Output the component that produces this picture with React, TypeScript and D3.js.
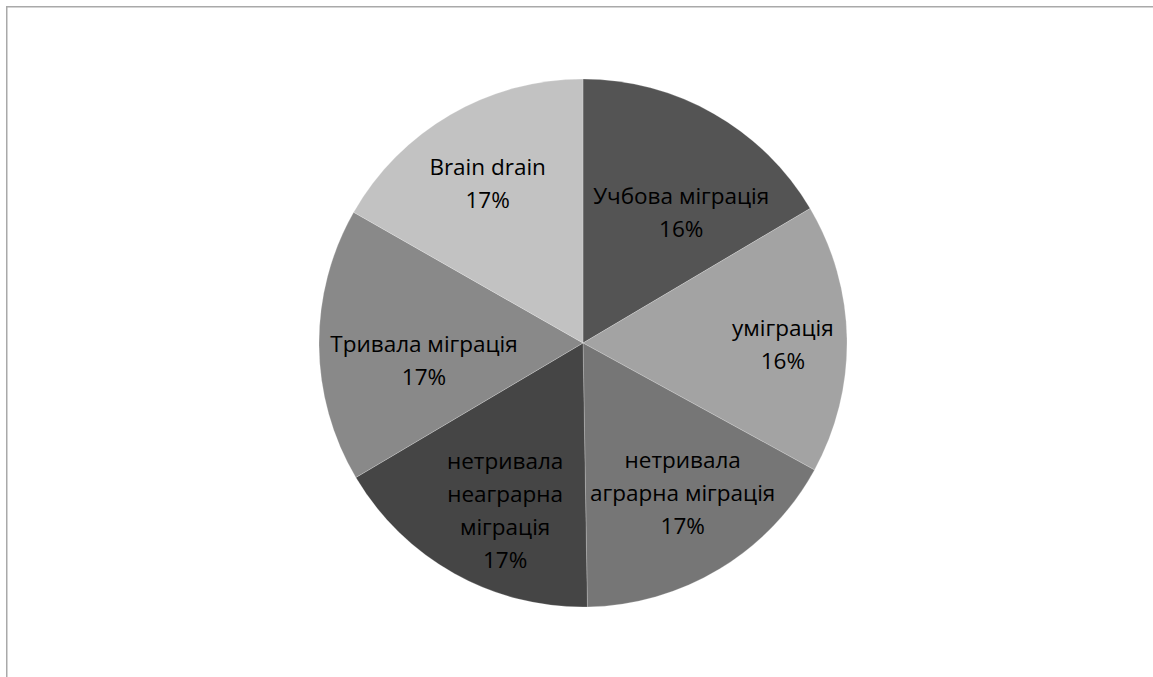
import { useEffect, useRef } from 'react';
import * as d3 from 'd3';

const CATEGORIES = [
  ['Учбова міграція'],
  ['умiграція'],
  ['нетривала', 'аграрна міграція'],
  ['нетривала', 'неаграрна', 'міграція'],
  ['Тривала міграція'],
  ['Brain drain'],
];
const VALUES = [16.49, 16.49, 16.755, 16.755, 16.755, 16.755];
const COLORS = ['#545454', '#a3a3a3', '#767676', '#454545', '#898989', '#c2c2c2'];

export default function App() {
  const svgRef = useRef<SVGSVGElement>(null);

  useEffect(() => {
    if (!svgRef.current) return;
    const width = 1153;
    const height = 677;
    const cx = 583;
    const cy = 343;
    const radius = 264;

    const svg = d3.select(svgRef.current);
    svg.selectAll('*').remove();
    svg.attr('viewBox', `0 0 ${width} ${height}`);

    // chart frame (runs off the right/bottom edges)
    svg.append('rect')
      .attr('x', 6.75).attr('y', 6.75)
      .attr('width', width + 20).attr('height', height + 20)
      .attr('fill', 'white')
      .attr('stroke', '#a9a9a9')
      .attr('stroke-width', 1.5);

    const g = svg.append('g').attr('transform', `translate(${cx},${cy})`);

    const pie = d3.pie<number>().sort(null).value((d) => d);
    const arcs = pie(VALUES);
    const total = d3.sum(VALUES);

    const arc = d3.arc<d3.PieArcDatum<number>>().innerRadius(0).outerRadius(radius);

    g.selectAll('path.slice')
      .data(arcs)
      .join('path')
      .attr('class', 'slice')
      .attr('d', arc as any)
      .attr('fill', (_, i) => COLORS[i])
      .attr('stroke', 'rgba(255,255,255,0.35)')
      .attr('stroke-width', 0.6);

    // "best fit" labels: push each text block outwards until it nearly touches
    // the rim, and turn it inside its slice so it keeps clear of the slice edges.
    // The label box has some padding above the text, so the text sits a bit low.
    const lineH = 33;
    const halfH = 14;
    const topPad = 7;
    const rimGap = 10;
    const edgeGap = 10;

    arcs.forEach((a, i) => {
      const lines = [...CATEGORIES[i], `${Math.round((a.data / total) * 100)}%`];
      const text = g.append('text')
        .attr('text-anchor', 'middle')
        .attr('font-family', '"Open Sans", "Noto Sans", sans-serif')
        .attr('font-size', '22.5px')
        .attr('fill', '#000');
      const spans = lines.map((line) =>
        text.append('tspan').attr('dominant-baseline', 'middle').text(line));
      const widths = spans.map((s) => (s.node() as SVGTSpanElement).getComputedTextLength());
      const offs = lines.map((_, j) => (j - (lines.length - 1) / 2) * lineH + topPad);

      const corners: [number, number][] = [];
      widths.forEach((w, j) => {
        [-w / 2, w / 2].forEach((x) => {
          corners.push([x, offs[j] - halfH]);
          corners.push([x, offs[j] + halfH]);
          if (j === 0) corners.push([x, offs[j] - halfH - 2 * topPad]);
        });
      });

      const fitT = (dx: number, dy: number) => {
        let lo = 0;
        let hi = radius;
        for (let k = 0; k < 40; k++) {
          const t = (lo + hi) / 2;
          const ok = corners.every(([x, y]) =>
            Math.hypot(t * dx + x, t * dy + y) <= radius - rimGap);
          if (ok) lo = t; else hi = t;
        }
        return lo;
      };

      const mid = (a.startAngle + a.endAngle) / 2;
      const us = [Math.sin(a.startAngle), -Math.cos(a.startAngle)];
      const ue = [Math.sin(a.endAngle), -Math.cos(a.endAngle)];
      let best = { score: -Infinity, dev: Infinity, x: 0, y: 0 };
      const step = Math.PI / 720;
      for (let th = a.startAngle + step; th < a.endAngle; th += step) {
        const dx = Math.sin(th);
        const dy = -Math.cos(th);
        const t = fitT(dx, dy);
        const px = t * dx;
        const py = t * dy;
        let clear = Infinity;
        corners.forEach(([x, y]) => {
          const qx = px + x;
          const qy = py + y;
          const ds = us[0] * qy - us[1] * qx;
          const de = -(ue[0] * qy - ue[1] * qx);
          clear = Math.min(clear, ds, de);
        });
        const score = Math.min(clear, edgeGap);
        const dev = Math.abs(th - mid);
        if (score > best.score + 1e-6 || (Math.abs(score - best.score) < 1e-6 && dev < best.dev)) {
          best = { score, dev, x: px, y: py };
        }
      }

      spans.forEach((s, j) => s.attr('x', best.x).attr('y', best.y + offs[j]));
    });
  }, []);

  return (
    <svg
      ref={svgRef}
      width={1153}
      height={677}
      style={{ position: 'absolute', left: 0, top: 0, display: 'block' }}
    />
  );
}
